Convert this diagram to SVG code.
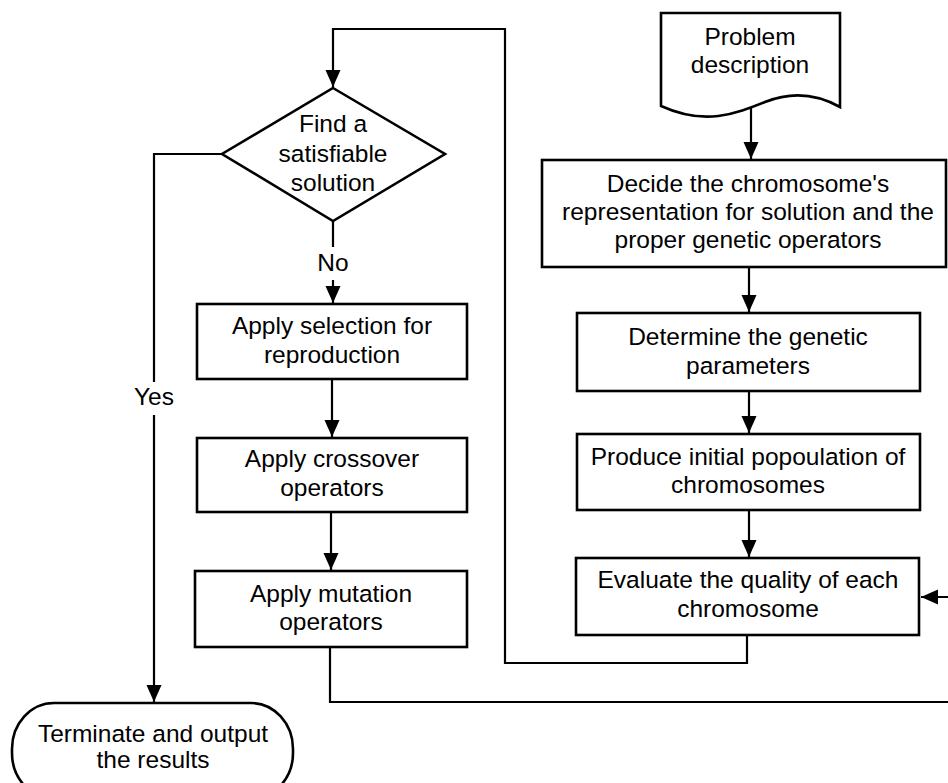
<svg xmlns="http://www.w3.org/2000/svg" width="948" height="783" viewBox="0 0 948 783">
  <style>
    .box { fill: #fff; stroke: #000; stroke-width: 2.6; }
    .edge { fill: none; stroke: #000; stroke-width: 2.2; }
    text { font-family: "Liberation Sans", Arial, sans-serif; font-size: 24.5px; fill: #000; text-anchor: middle; }
  </style>
  <defs>
    <marker id="arrow" markerUnits="userSpaceOnUse" markerWidth="18" markerHeight="16" refX="17" refY="7.5" orient="auto">
      <path d="M0,0 L17,7.5 L0,15 z" fill="#000"/>
    </marker>
  </defs>
  <rect width="948" height="783" fill="#fff"/>

  <g id="connectors">
    <path class="edge" d="M751,108 V159" marker-end="url(#arrow)"/>
    <path class="edge" d="M749,267 V312" marker-end="url(#arrow)"/>
    <path class="edge" d="M749,391 V433" marker-end="url(#arrow)"/>
    <path class="edge" d="M749,510 V557" marker-end="url(#arrow)"/>
    <path class="edge" d="M747,635 V663 H505 V29 H333 V87" marker-end="url(#arrow)"/>
    <path class="edge" d="M333,221 V247"/>
    <path class="edge" d="M333,280 V303" marker-end="url(#arrow)"/>
    <path class="edge" d="M332,379 V437" marker-end="url(#arrow)"/>
    <path class="edge" d="M331,512 V570" marker-end="url(#arrow)"/>
    <path class="edge" d="M330,647 V702 H960 V597 H921" marker-end="url(#arrow)"/>
    <path class="edge" d="M222,154 H154 V382"/>
    <path class="edge" d="M154,415 V702" marker-end="url(#arrow)"/>
    <text x="333" y="271">No</text>
    <text x="154" y="405">Yes</text>
  </g>

  <g id="problem">
    <path class="box" d="M661,13 H840 V107 C815,93 790,92 765,102 C735,114 705,126 661,106 Z"/>
    <text x="750" y="45">Problem</text>
    <text x="750" y="73">description</text>
  </g>

  <g id="decide">
    <rect class="box" x="542" y="160" width="404" height="107"/>
    <text x="748" y="192">Decide the chromosome's</text>
    <text x="748" y="220">representation for solution and the</text>
    <text x="748" y="248">proper genetic operators</text>
  </g>

  <g id="determine">
    <rect class="box" x="577" y="313" width="343" height="78"/>
    <text x="748" y="345">Determine the genetic</text>
    <text x="748" y="374">parameters</text>
  </g>

  <g id="produce">
    <rect class="box" x="577" y="434" width="343" height="76"/>
    <text x="748" y="465">Produce initial popoulation of</text>
    <text x="748" y="493">chromosomes</text>
  </g>

  <g id="evaluate">
    <rect class="box" x="576" y="558" width="343" height="77"/>
    <text x="748" y="588">Evaluate the quality of each</text>
    <text x="748" y="617">chromosome</text>
  </g>

  <g id="decision">
    <path class="box" d="M333,88 L445,154 L333,221 L222,154 Z"/>
    <text x="333" y="132">Find a</text>
    <text x="333" y="162">satisfiable</text>
    <text x="333" y="191">solution</text>
  </g>

  <g id="selection">
    <rect class="box" x="197" y="304" width="270" height="75"/>
    <text x="332" y="334">Apply selection for</text>
    <text x="332" y="363">reproduction</text>
  </g>

  <g id="crossover">
    <rect class="box" x="197" y="438" width="270" height="74"/>
    <text x="332" y="467">Apply crossover</text>
    <text x="332" y="496">operators</text>
  </g>

  <g id="mutation">
    <rect class="box" x="195" y="571" width="272" height="76"/>
    <text x="331" y="602">Apply mutation</text>
    <text x="331" y="630">operators</text>
  </g>

  <g id="terminate">
    <rect class="box" x="12" y="703" width="281" height="96" rx="42" ry="46"/>
    <text x="153" y="742">Terminate and output</text>
    <text x="153" y="768">the results</text>
  </g>
</svg>
